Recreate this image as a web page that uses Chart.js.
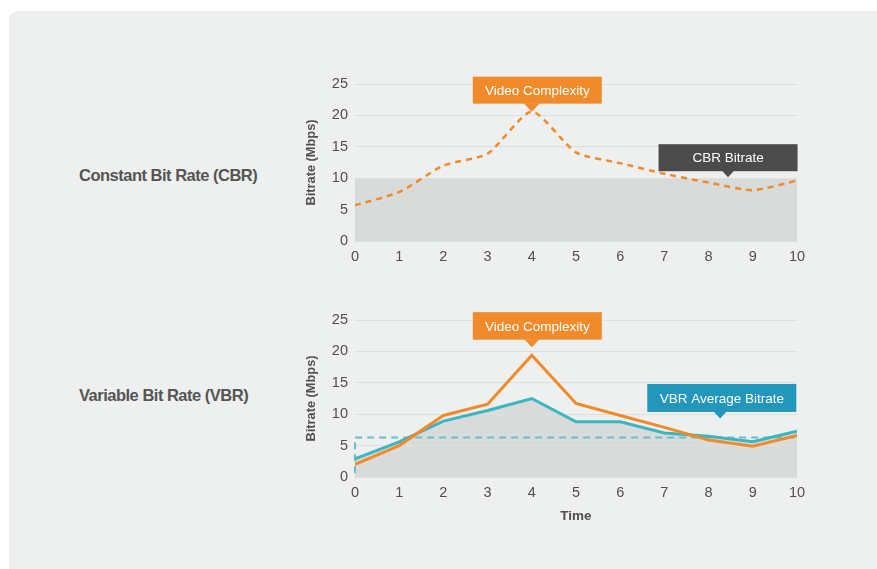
<!DOCTYPE html>
<html>
<head>
<meta charset="utf-8">
<script src="https://cdn.jsdelivr.net/npm/chart.js@4.4.1/dist/chart.umd.min.js"></script>
<style>
  html, body { margin: 0; padding: 0; background: #ffffff; }
  body { width: 877px; height: 569px; position: relative; overflow: hidden; font-family: "Liberation Sans", Arial, sans-serif; }
  #panel { position: absolute; left: 9px; top: 11px; width: 880px; height: 570px; background: #eeefef; border-radius: 9px; }
  .row-label { position: absolute; left: 79px; font-weight: bold; font-size: 16.5px; letter-spacing: -0.5px; color: #555555; white-space: nowrap; }
  canvas { position: absolute; }
</style>
</head>
<body>
<div id="panel"></div>
<div class="row-label" style="top:166px;">Constant Bit Rate (CBR)</div>
<div class="row-label" style="top:386px;">Variable Bit Rate (VBR)</div>
<canvas id="cbr" width="514" height="210" style="left:300px; top:60px; width:514px; height:210px;"></canvas>
<canvas id="vbr" width="514" height="230" style="left:300px; top:300px; width:514px; height:230px;"></canvas>
<script>
// Time axis (seconds) and bitrate values in Mbps
const timeSteps = [0, 1, 2, 3, 4, 5, 6, 7, 8, 9, 10];
const bitrateTicks = [0, 5, 10, 15, 20, 25];

// Constant bit rate encoding
const cbrComplexity = [5.7, 7.8, 12.0, 13.9, 20.6, 14.1, 12.4, 10.7, 9.3, 8.1, 9.6];
const cbrBitrate = 10;

// Variable bit rate encoding
const vbrComplexity = [2.0, 5.0, 9.8, 11.6, 19.4, 11.7, 9.8, 7.9, 5.9, 4.9, 6.6];
const vbrBitrate = [2.9, 5.6, 8.9, 10.6, 12.5, 8.8, 8.8, 7.0, 6.5, 5.6, 7.3];
const vbrAverage = 6.3;
const vbrAverageStart = 0.6;

const ORANGE = '#f08a2a';
const TEAL = '#3bb6c1';
const TEAL_LIGHT = '#66bfca';
const AREA = '#d9dada';
const GRID = '#dedfdf';
const TEXT = '#4f4f4f';
const FONT = '"Liberation Sans", Arial, sans-serif';

const pts = (ys) => ys.map((y, i) => ({ x: timeSteps[i], y }));

// Callout boxes with a downward pointer, anchored to a value on the chart
const calloutPlugin = {
  id: 'callouts',
  afterDatasetsDraw(chart, args, opts) {
    const ctx = chart.ctx;
    const xs = chart.scales.x, ys = chart.scales.y;
    for (const c of opts.items || []) {
      const tipX = xs.getPixelForValue(c.x);
      const tipY = ys.getPixelForValue(c.y) - c.gap;
      const boxBottom = tipY - c.tip;
      const boxTop = boxBottom - c.h;
      const boxLeft = tipX + c.dx - c.w / 2;
      ctx.save();
      ctx.fillStyle = c.color;
      ctx.fillRect(boxLeft, boxTop, c.w, c.h);
      ctx.beginPath();
      ctx.moveTo(tipX - c.tip, boxBottom - 0.5);
      ctx.lineTo(tipX + c.tip, boxBottom - 0.5);
      ctx.lineTo(tipX, tipY);
      ctx.closePath();
      ctx.fill();
      ctx.fillStyle = '#ffffff';
      ctx.font = '13.5px ' + FONT;
      ctx.textAlign = 'center';
      ctx.textBaseline = 'middle';
      ctx.fillText(c.text, boxLeft + c.w / 2, boxTop + c.h / 2 + 1);
      ctx.restore();
    }
  }
};

function baseOptions(xTitle, padTop, xAxisHeight, items) {
  return {
    responsive: false,
    animation: false,
    devicePixelRatio: 1,
    events: [],
    layout: { padding: { top: padTop, right: 17, left: 0, bottom: 0 } },
    plugins: {
      legend: { display: false },
      tooltip: { enabled: false },
      filler: { drawTime: 'beforeDraw' },
      callouts: { items }
    },
    elements: { point: { radius: 0 } },
    scales: {
      x: {
        type: 'linear',
        min: 0,
        max: 10,
        border: { display: false },
        grid: { display: false, drawTicks: false },
        ticks: { stepSize: 1, padding: 7.5, color: TEXT, font: { family: FONT, size: 14.5 } },
        title: {
          display: !!xTitle,
          text: xTitle || '',
          color: TEXT,
          font: { family: FONT, size: 13.5, weight: 'bold' },
          padding: { top: 0, bottom: 6 }
        },
        afterFit(scale) { scale.height = xAxisHeight; }
      },
      y: {
        min: 0,
        max: 25,
        border: { display: false },
        grid: { color: GRID, lineWidth: 1, drawTicks: false },
        afterBuildTicks(scale) { scale.ticks = bitrateTicks.map(v => ({ value: v })); },
        ticks: { padding: 7, color: TEXT, font: { family: FONT, size: 14.5 } },
        title: {
          display: true,
          text: 'Bitrate (Mbps)',
          color: TEXT,
          font: { family: FONT, size: 12.8, weight: 'bold' },
          padding: { top: 4, bottom: 0 }
        },
        afterFit(scale) { scale.width = 55; }
      }
    }
  };
}

// CBR: the encoder spends a fixed bitrate regardless of scene complexity
new Chart(document.getElementById('cbr'), {
  type: 'line',
  data: {
    datasets: [
      {
        label: 'Video Complexity',
        data: pts(cbrComplexity),
        borderColor: ORANGE,
        borderWidth: 2.5,
        borderDash: [6, 5],
        tension: 0.22,
        fill: false
      },
      {
        label: 'CBR Bitrate',
        data: [{ x: timeSteps[0], y: cbrBitrate }, { x: timeSteps[timeSteps.length - 1], y: cbrBitrate }],
        borderWidth: 0,
        borderColor: 'rgba(0,0,0,0)',
        backgroundColor: AREA,
        fill: 'origin'
      }
    ]
  },
  options: baseOptions(null, 24, 29, [
    { text: 'Video Complexity', color: ORANGE, x: 4, y: Math.max(...cbrComplexity), gap: 0, tip: 8, w: 129, h: 27, dx: 5.5 },
    { text: 'CBR Bitrate', color: '#4b4b4b', x: 8.44, y: cbrBitrate, gap: 1, tip: 6, w: 139, h: 27, dx: 0 }
  ]),
  plugins: [calloutPlugin]
});

// VBR: the bitrate follows the complexity of the content
new Chart(document.getElementById('vbr'), {
  type: 'line',
  data: {
    datasets: [
      {
        label: 'Video Complexity',
        data: pts(vbrComplexity),
        borderColor: ORANGE,
        borderWidth: 3,
        tension: 0,
        fill: false
      },
      {
        label: 'VBR Bitrate',
        data: pts(vbrBitrate),
        borderColor: TEAL,
        borderWidth: 3,
        backgroundColor: AREA,
        tension: 0,
        fill: 'origin'
      },
      {
        label: 'VBR Average Bitrate',
        data: [
          { x: timeSteps[0], y: vbrAverageStart },
          { x: timeSteps[0], y: vbrAverage },
          { x: timeSteps[timeSteps.length - 1], y: vbrAverage }
        ],
        borderColor: TEAL_LIGHT,
        borderWidth: 2,
        borderDash: [7, 5],
        tension: 0,
        fill: false,
        clip: 4
      }
    ]
  },
  options: baseOptions('Time', 20, 53, [
    { text: 'Video Complexity', color: ORANGE, x: 4, y: Math.max(...vbrComplexity), gap: 8, tip: 7.5, w: 129, h: 27.5, dx: 5.5 },
    { text: 'VBR Average Bitrate', color: '#2297bb', x: 8.26, y: vbrAverage, gap: 19, tip: 6.5, w: 149, h: 28, dx: 1.7 }
  ]),
  plugins: [calloutPlugin]
});
</script>
</body>
</html>
